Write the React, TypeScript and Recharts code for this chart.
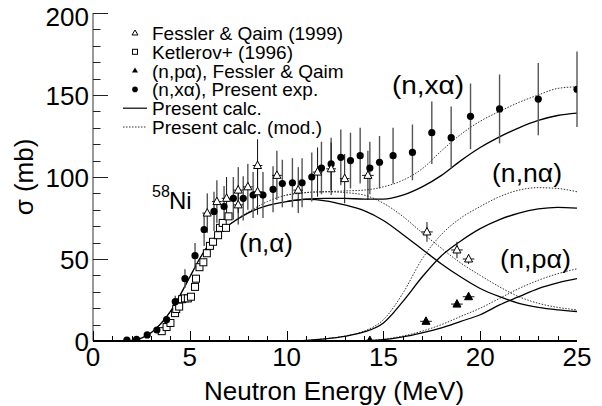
import React from 'react';
import { ComposedChart, Line, Scatter, XAxis, YAxis, ErrorBar } from 'recharts';

const FONT = '"Liberation Sans", Arial, Helvetica, sans-serif';

// ---- calculated curves (energy grid in MeV, cross sections in mb) ----
const alphaCalcE = [1, 2, 2.5, 3, 3.5, 4, 4.5, 5, 5.5, 6, 6.5, 7, 7.5, 8, 9, 10, 11, 12, 13, 14, 15, 16, 17, 18, 19, 20, 21, 22, 23, 24, 25];
const alphaCalc = [0, 0.3, 1.8, 5, 10.5, 18, 28, 39, 50, 59, 65.5, 70.5, 74.5, 78, 82.5, 85, 86.3, 85.5, 83, 79.5, 73.5, 65, 56, 47, 39, 32, 27, 23, 20.5, 19, 18];
const alphaModE = [1, 2, 2.5, 3, 3.5, 4, 4.5, 5, 5.5, 6, 6.5, 7, 7.5, 8, 9, 10, 11, 12, 13, 14, 15, 16, 17, 18, 19, 20, 21, 22, 23, 24, 25];
const alphaMod = [0, 0.3, 1.8, 5, 10.5, 18, 28, 39, 50, 59, 65.5, 70.5, 75, 78.5, 85, 89, 90.5, 91, 90.5, 89, 84, 76, 66, 56.5, 47.5, 40, 33, 27, 23, 20.5, 19];

const xalphaCalcE = [10, 11, 12, 13, 14, 15, 16, 17, 18, 19, 20, 21, 22, 23, 24, 25];
const xalphaCalc = [85, 86.5, 87, 87, 86.5, 86.5, 89, 94, 101, 110, 118, 124.5, 130, 134.5, 137.5, 139];
const xalphaModE = [10, 11, 12, 13, 14, 15, 16, 17, 18, 19, 20, 21, 22, 23, 24, 25];
const xalphaMod = [89, 90.5, 91, 91.5, 92, 94, 98, 105, 116, 126, 134, 140, 145.5, 150, 154, 155];

const nalphaCalcE = [10.5, 11, 12, 13, 14, 15, 16, 17, 18, 19, 20, 21, 22, 23, 24, 25];
const nalphaCalc = [0, 0.4, 1.3, 2.8, 5.5, 11, 24, 39, 52, 61, 68.5, 74, 78, 80.5, 81.5, 81];
const nalphaModE = [10.5, 11, 12, 13, 14, 15, 16, 17, 18, 19, 20, 21, 22, 23, 24, 25];
const nalphaMod = [0, 0.4, 1.4, 3, 6, 13, 29, 50, 65, 75, 82, 88, 92, 93.5, 93, 91];

const palphaCalcE = [13.5, 14, 15, 16, 17, 18, 19, 20, 21, 22, 23, 24, 25];
const palphaCalc = [0, 0.2, 0.8, 2.5, 5, 8, 12, 16, 22, 27, 32, 35.5, 38];
const palphaModE = [13.5, 14, 15, 16, 17, 18, 19, 20, 21, 22, 23, 24, 25];
const palphaMod = [0, 0.2, 1, 3, 6, 10, 15, 20, 26, 32, 37, 41, 44];

// ---- measurements ----
const presentE = [1.75, 2.25, 2.8, 3.3, 3.8, 4.25, 4.75, 5.27, 5.74, 6.25, 6.77, 7.25, 7.76, 8.27, 8.78, 9.3, 9.78, 10.3, 10.8, 11.3, 11.8, 12.3, 12.8, 13.3, 13.8, 14.3, 14.8, 15.5, 16.5, 17.5, 18.5, 19.5, 21, 23, 25];
const presentS = [0.6, 1, 3.7, 6.7, 13, 24, 38, 52, 68, 79, 82, 87, 87, 89, 89, 92.5, 96, 96.5, 96.5, 100, 105.5, 108, 112, 110, 113, 105.5, 109, 113, 115, 127, 124, 137, 141.5, 147.5, 153.5];
const presentErr = [0.2, 0.3, 0.6, 1, 2, 3.6, 5.7, 7.8, 10, 12, 12.5, 13, 13.5, 14, 14, 14, 14.5, 15, 15, 15, 16, 16, 17, 17, 17, 16, 16, 17, 17, 19, 19, 20, 21, 22, 23];

const fesslerE = [5.9, 6.4, 6.9, 7.5, 7.5, 8.0, 8.5, 8.5, 9.5, 10.6, 11.6, 12.3, 13.0, 14.2, 17.25, 18.8, 19.4];
const fesslerS = [78, 85, 87, 92, 83, 94, 107, 91, 101, 92, 103, 105, 99, 101, 66.5, 55.5, 50];
const fesslerErr = [12, 13, 13, 14, 12, 14, 16, 14, 15, 14, 15, 16, 15, 15, 6, 5, 3];
const fesslerEErr = [0.25, 0.25, 0.25, 0.25, 0.25, 0.25, 0.25, 0.25, 0.25, 0.25, 0.25, 0.25, 0.25, 0.3, 0.3, 0.3, 0.3];

const ketlerovE = [3.55, 3.8, 4.0, 4.24, 4.3, 4.45, 4.6, 4.75, 4.9, 5.06, 5.27, 5.32, 5.5, 5.7, 5.88, 6.04, 6.2, 6.46, 6.56, 6.7, 6.87, 7.0];
const ketlerovS = [6, 8.5, 11, 17, 19.5, 21, 25.5, 26, 26, 27, 33, 38, 45, 48, 53.5, 58, 60.5, 64.5, 69, 72, 69, 76];

const npaE = [14.3, 17.2, 18.8, 19.4];
const npaS = [0.3, 12, 22.5, 27];
const npaEErr = [0.3, 0.3, 0.3, 0.3];

// ---- axis ticks ----
const xMinor = [0, 1, 2, 3, 4, 5, 6, 7, 8, 9, 10, 11, 12, 13, 14, 15, 16, 17, 18, 19, 20, 21, 22, 23, 24, 25];
const xMajor = [0, 5, 10, 15, 20, 25];
const yMinor = [0, 10, 20, 30, 40, 50, 60, 70, 80, 90, 100, 110, 120, 130, 140, 150, 160, 170, 180, 190, 200];
const yMajor = [0, 50, 100, 150, 200];

const curve = (E: number[], s: number[]) => E.map((e, i) => ({ E: e, s: s[i] }));

const presentData = presentE.map((e, i) => ({ E: e, s: presentS[i], ey: presentErr[i] }));
const fesslerData = fesslerE.map((e, i) => ({ E: e, s: fesslerS[i], ey: fesslerErr[i], ex: fesslerEErr[i] }));
const ketlerovData = ketlerovE.map((e, i) => ({ E: e, s: ketlerovS[i] }));
const npaData = npaE.map((e, i) => ({ E: e, s: npaS[i], ex: npaEErr[i] }));
const yTickMarks = yMinor.map((v) => ({ E: 0, s: v, major: yMajor.includes(v) }));
const xTickMarks = xMinor.map((v) => ({ E: v, s: 0, major: xMajor.includes(v) }));

const OpenTri = (p: any) => {
  const { cx, cy } = p;
  if (cx == null || cy == null) return null;
  return <path d={`M${cx},${cy - 4.5} L${cx + 4},${cy + 3} L${cx - 4},${cy + 3} Z`} fill="#fff" stroke="#000" strokeWidth={1} />;
};
const FillTri = (p: any) => {
  const { cx, cy } = p;
  if (cx == null || cy == null) return null;
  return <path d={`M${cx},${cy - 4.5} L${cx + 4},${cy + 3} L${cx - 4},${cy + 3} Z`} fill="#000" stroke="#000" strokeWidth={1} />;
};
const OpenSq = (p: any) => {
  const { cx, cy } = p;
  if (cx == null || cy == null) return null;
  return <rect x={cx - 3.5} y={cy - 3.5} width={7} height={7} fill="#fff" stroke="#000" strokeWidth={1} />;
};
const Dot = (p: any) => {
  const { cx, cy } = p;
  if (cx == null || cy == null) return null;
  return <circle cx={cx} cy={cy} r={3.6} fill="#000" />;
};
const YTickMark = (p: any) => {
  const { cx, cy } = p;
  if (cx == null || cy == null) return null;
  const major = p.payload ? p.payload.major : p.major;
  const len = major ? 15 : 7.5;
  return <path d={`M${cx},${Math.round(cy) + 0.5}H${cx + len}`} stroke="#222" strokeWidth={1} fill="none" />;
};
const XTickMark = (p: any) => {
  const { cx, cy } = p;
  if (cx == null || cy == null) return null;
  const major = p.payload ? p.payload.major : p.major;
  const len = major ? 10 : 5;
  return <path d={`M${Math.round(cx) + 0.5},${cy}V${cy - len}`} stroke="#000" strokeWidth={1} fill="none" />;
};

const YLabel = (props: any) => {
  const { x, y, payload } = props;
  const v = payload.value;
  const shift = v === 200 ? 3 : 0;
  return (
    <text x={x} y={y + 9.5 + shift} textAnchor="end" fontSize={26} fontFamily={FONT} fill="#000">
      {v}
    </text>
  );
};

const solid = { stroke: '#000', strokeWidth: 1.3 };
const dotted = { stroke: '#333', strokeWidth: 1, strokeDasharray: '1.5 1.5' };
const tickFont = { fontSize: 26, fontFamily: FONT, fill: '#000' };

export default function App() {
  const legendRows = [
    'Fessler & Qaim (1999)',
    'Ketlerov+ (1996)',
    '(n,pα), Fessler & Qaim',
    '(n,xα), Present exp.',
    'Present calc.',
    'Present calc. (mod.)',
  ];
  const mx = 135;
  const rowBase = (i: number) => 40 + i * 18.8;
  const rowMid = (i: number) => rowBase(i) - 7;
  return (
    <div style={{ position: 'absolute', left: 0, top: 0, width: 602, height: 406, background: '#fff' }}>
      <ComposedChart width={602} height={406} margin={{ top: 13, right: 25, bottom: 0, left: 0 }}>
        <XAxis
          type="number"
          dataKey="E"
          domain={[0, 25]}
          ticks={xMajor}
          interval={0}
          allowDataOverflow
          height={65}
          tickSize={0}
          tickMargin={7}
          tickLine={false}
          axisLine={{ stroke: '#000', strokeWidth: 2 }}
          tick={tickFont}
        />
        <XAxis
          xAxisId="top"
          orientation="top"
          type="number"
          domain={[0, 25]}
          height={0}
          tick={false}
          tickLine={false}
          axisLine={{ stroke: '#000', strokeWidth: 1 }}
        />
        <YAxis
          type="number"
          domain={[0, 200]}
          ticks={yMajor}
          interval={0}
          allowDataOverflow
          width={93}
          tickSize={0}
          tickMargin={4}
          tickLine={false}
          axisLine={{ stroke: '#333', strokeWidth: 1 }}
          tick={YLabel}
        />
        <YAxis
          yAxisId="right"
          orientation="right"
          type="number"
          domain={[0, 200]}
          width={0}
          tick={false}
          tickLine={false}
          axisLine={{ stroke: '#000', strokeWidth: 1.3 }}
        />
        <Scatter data={yTickMarks} dataKey="s" shape={YTickMark} isAnimationActive={false} />
        <Scatter data={xTickMarks} dataKey="s" shape={XTickMark} isAnimationActive={false} />
        <Line data={curve(alphaModE, alphaMod)} dataKey="s" type="monotone" dot={false} {...dotted} isAnimationActive={false} />
        <Line data={curve(xalphaModE, xalphaMod)} dataKey="s" type="monotone" dot={false} {...dotted} isAnimationActive={false} />
        <Line data={curve(nalphaModE, nalphaMod)} dataKey="s" type="monotone" dot={false} {...dotted} isAnimationActive={false} />
        <Line data={curve(palphaModE, palphaMod)} dataKey="s" type="monotone" dot={false} {...dotted} isAnimationActive={false} />
        <Line data={curve(alphaCalcE, alphaCalc)} dataKey="s" type="monotone" dot={false} {...solid} isAnimationActive={false} />
        <Line data={curve(xalphaCalcE, xalphaCalc)} dataKey="s" type="monotone" dot={false} {...solid} isAnimationActive={false} />
        <Line data={curve(nalphaCalcE, nalphaCalc)} dataKey="s" type="monotone" dot={false} {...solid} isAnimationActive={false} />
        <Line data={curve(palphaCalcE, palphaCalc)} dataKey="s" type="monotone" dot={false} {...solid} isAnimationActive={false} />
        <Scatter data={ketlerovData} dataKey="s" shape={OpenSq} isAnimationActive={false} />
        <Scatter data={presentData} dataKey="s" shape={Dot} isAnimationActive={false}>
          <ErrorBar dataKey="ey" direction="y" width={0} stroke="#555" strokeWidth={1.4} />
        </Scatter>
        <Scatter data={fesslerData} dataKey="s" shape={OpenTri} isAnimationActive={false}>
          <ErrorBar dataKey="ey" direction="y" width={0} stroke="#111" strokeWidth={1} />
          <ErrorBar dataKey="ex" direction="x" width={0} stroke="#111" strokeWidth={1} />
        </Scatter>
        <Scatter data={npaData} dataKey="s" shape={FillTri} isAnimationActive={false}>
          <ErrorBar dataKey="ex" direction="x" width={0} stroke="#111" strokeWidth={1} />
        </Scatter>
      </ComposedChart>
      <svg width={602} height={406} style={{ position: 'absolute', left: 0, top: 0, pointerEvents: 'none' }} fontFamily={FONT}>
        <text x={334} y={400} textAnchor="middle" fontSize={26} fill="#000">Neutron Energy (MeV)</text>
        <text x={0} y={0} transform="translate(33,177) rotate(-90)" textAnchor="middle" fontSize={26} fill="#000">σ (mb)</text>
        <path d={`M${mx},${rowMid(0) - 3} L${mx + 3},${rowMid(0) + 2} L${mx - 3},${rowMid(0) + 2} Z`} fill="#fff" stroke="#000" strokeWidth={1} />
        <rect x={mx - 2.5} y={rowMid(1) - 2.5} width={5} height={5} fill="#fff" stroke="#000" strokeWidth={1} />
        <path d={`M${mx},${rowMid(2) - 3} L${mx + 3},${rowMid(2) + 2} L${mx - 3},${rowMid(2) + 2} Z`} fill="#000" />
        <circle cx={mx} cy={rowMid(3)} r={2.8} fill="#000" />
        <line x1={123} x2={147} y1={rowMid(4)} y2={rowMid(4)} stroke="#000" strokeWidth={1.2} />
        <line x1={123} x2={147} y1={rowMid(5)} y2={rowMid(5)} stroke="#333" strokeWidth={1} strokeDasharray="1.5 1.5" />
        {legendRows.map((t, i) => (
          <text key={t} x={152} y={rowBase(i)} fontSize={19} fill="#000">{t}</text>
        ))}
        <text x={392} y={94} fontSize={25} textLength={72} lengthAdjust="spacingAndGlyphs" fill="#000">(n,xα)</text>
        <text x={492} y={182} fontSize={25} textLength={70} lengthAdjust="spacingAndGlyphs" fill="#000">(n,nα)</text>
        <text x={500} y={268} fontSize={25} textLength={71} lengthAdjust="spacingAndGlyphs" fill="#000">(n,pα)</text>
        <text x={239} y={252} fontSize={25} textLength={54} lengthAdjust="spacingAndGlyphs" fill="#000">(n,α)</text>
        <text x={152} y={197} fontSize={16} fill="#000">58</text>
        <text x={169} y={209} fontSize={24} fill="#000">Ni</text>
      </svg>
    </div>
  );
}
